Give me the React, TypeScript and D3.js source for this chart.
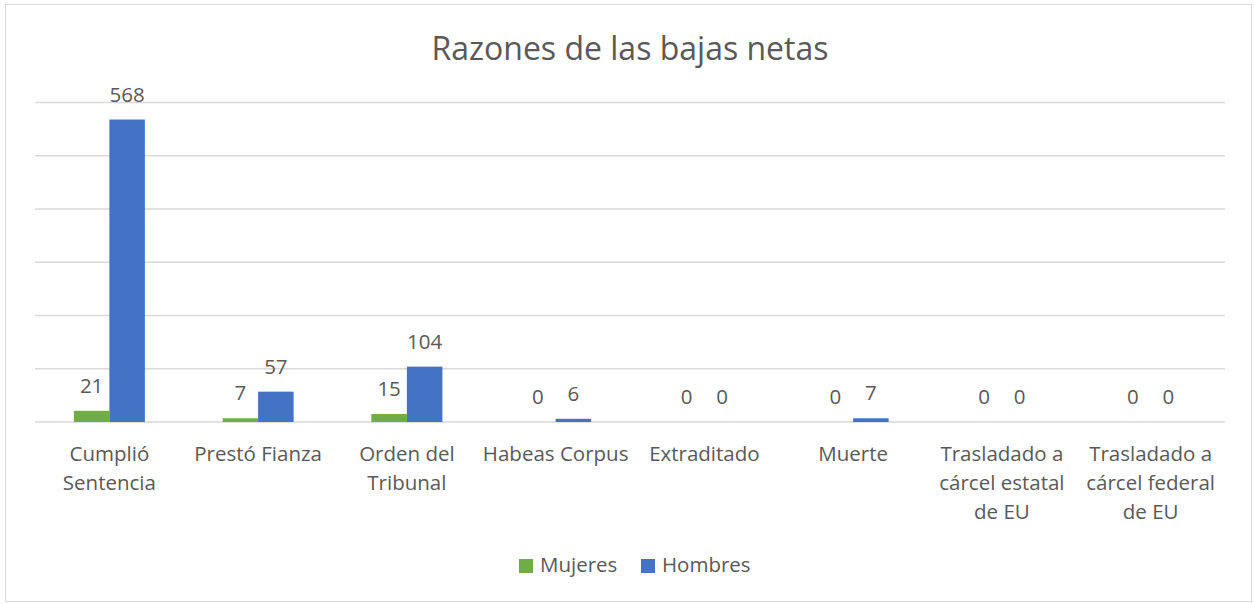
import React from "react";
import * as d3 from "d3";

const title = "Razones de las bajas netas";
const categories = [
  "Cumplió\nSentencia",
  "Prestó Fianza",
  "Orden del\nTribunal",
  "Habeas Corpus",
  "Extraditado",
  "Muerte",
  "Trasladado a\ncárcel estatal\nde EU",
  "Trasladado a\ncárcel federal\nde EU",
];
const seriesNames = ["Mujeres", "Hombres"];
const mujeres = [21, 7, 15, 0, 0, 0, 0, 0];
const hombres = [568, 57, 104, 6, 0, 7, 0, 0];
const yTicks = [0, 100, 200, 300, 400, 500, 600];
const colors = ["#70AD47", "#4472C4"];

const W = 1254;
const H = 604;
const FONT = "'Open Sans', Lato, sans-serif";
const TEXT = "#595959";

export default function App() {
  const values = [mujeres, hombres];
  const x0 = d3
    .scaleBand<string>()
    .domain(categories)
    .range([35, 1225])
    .paddingInner(0.5227)
    .paddingOuter(0.5227 / 2);
  const x1 = d3
    .scaleBand<string>()
    .domain(seriesNames)
    .range([0, x0.bandwidth()]);
  const y = d3.scaleLinear().domain([0, 600]).range([422, 102.5]);

  return (
    <svg
      width={W}
      height={H}
      style={{ position: "absolute", left: 0, top: 0, background: "#fff" }}
      fontFamily={FONT}
    >
      <rect x={5.5} y={4.5} width={1246} height={597} fill="#fff" stroke="#D9D9D9" strokeWidth={1} />
      <text x={630} y={60} textAnchor="middle" fontSize={32} fill={TEXT}>
        {title}
      </text>
      {yTicks.map((t) => (
        <line key={t} x1={35} x2={1225} y1={y(t)} y2={y(t)} stroke="#D9D9D9" strokeWidth={1.3} />
      ))}
      {categories.map((c, i) => (
        <g key={c} transform={`translate(${x0(c)},0)`}>
          {seriesNames.map((s, si) => {
            const v = values[si][i];
            const bx = x1(s)!;
            return (
              <g key={s}>
                <rect
                  x={bx}
                  width={x1.bandwidth()}
                  y={y(v)}
                  height={Math.max(0, y(0) - y(v))}
                  fill={colors[si]}
                />
                <text
                  x={bx + x1.bandwidth() / 2}
                  y={y(v) - 18}
                  textAnchor="middle"
                  fontSize={20.5}
                  fill={TEXT}
                >
                  {v}
                </text>
              </g>
            );
          })}
          {c.split("\n").map((line, li) => (
            <text
              key={li}
              x={x0.bandwidth() / 2}
              y={461 + li * 29}
              textAnchor="middle"
              fontSize={20.5}
              fill={TEXT}
            >
              {line}
            </text>
          ))}
        </g>
      ))}
      {seriesNames.map((s, si) => {
        const lx = si === 0 ? 519 : 641;
        return (
          <g key={s}>
            <rect x={lx} y={559} width={14} height={14} fill={colors[si]} />
            <text x={lx + 21} y={572} fontSize={20.5} fill={TEXT}>
              {s}
            </text>
          </g>
        );
      })}
    </svg>
  );
}
